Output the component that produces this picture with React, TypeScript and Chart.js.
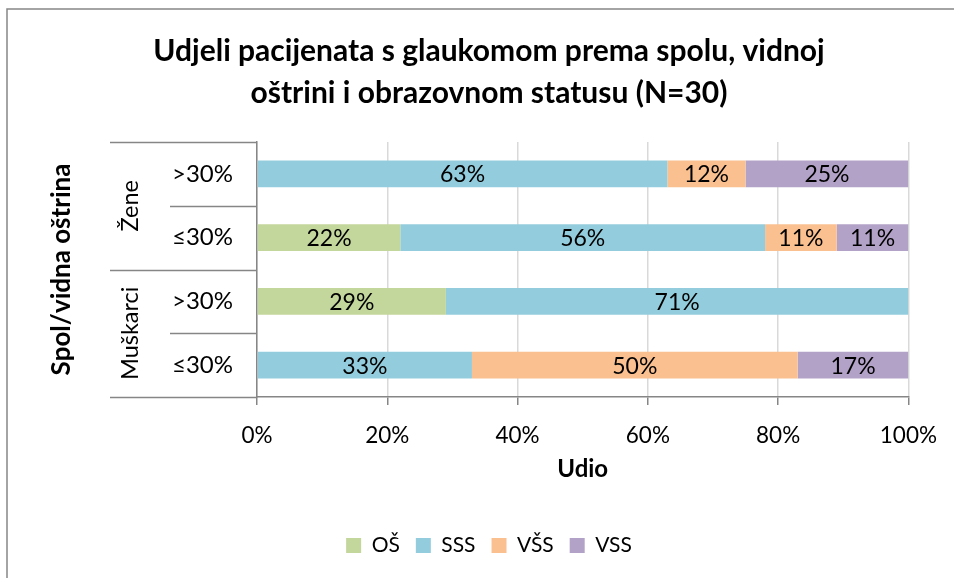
import React, { useEffect, useRef } from "react";
import { Chart, registerables } from "chart.js";

Chart.register(...registerables);

const titleLines = [
  "Udjeli pacijenata s glaukomom prema spolu, vidnoj",
  "oštrini i obrazovnom statusu (N=30)",
];
const groups = ["Žene", "Muškarci"];
const groupSizes = [2, 2];
const categories = [">30%", "≤30%", ">30%", "≤30%"];
const seriesNames = ["OŠ", "SSS", "VŠS", "VSS"];
const osValues = [0, 22, 29, 0];
const sssValues = [63, 56, 71, 33];
const vsHigherValues = [12, 11, 0, 50];
const vssValues = [25, 11, 0, 17];
const seriesColors = ["#C3D69B", "#93CDDD", "#FAC090", "#B3A2C7"];
const xTickValues = [0, 20, 40, 60, 80, 100];
const xAxisTitle = "Udio";
const yAxisTitle = "Spol/vidna oštrina";

const FONT = "Lato, 'Open Sans', sans-serif";
const AXIS_GRAY = "#868686";

const framePlugin = {
  id: "frame",
  beforeDraw(chart: any) {
    const ctx = chart.ctx;
    ctx.save();
    ctx.fillStyle = "#ffffff";
    ctx.fillRect(0, 0, chart.width, chart.height);
    ctx.strokeStyle = AXIS_GRAY;
    ctx.lineWidth = 1.5;
    ctx.beginPath();
    ctx.moveTo(7, chart.height + 5);
    ctx.lineTo(7, 9);
    ctx.lineTo(chart.width + 5, 9);
    ctx.stroke();
    ctx.restore();
  },
};

const valueLabelPlugin = {
  id: "valueLabels",
  afterDatasetsDraw(chart: any) {
    const ctx = chart.ctx;
    ctx.save();
    ctx.font = `23px ${FONT}`;
    ctx.fillStyle = "#000000";
    ctx.textAlign = "center";
    ctx.textBaseline = "middle";
    chart.data.datasets.forEach((ds: any, i: number) => {
      const meta = chart.getDatasetMeta(i);
      meta.data.forEach((bar: any, j: number) => {
        const v = ds.data[j];
        if (!v) return;
        const p = bar.getProps(["x", "y", "base"], true);
        ctx.fillText(`${v}%`, (p.x + p.base) / 2, p.y + 1);
      });
    });
    ctx.restore();
  },
};

const multiLevelPlugin = {
  id: "multiLevel",
  afterDraw(chart: any) {
    const ctx = chart.ctx;
    const y = chart.scales.y;
    const area = chart.chartArea;
    const n = categories.length;
    const step = y.getPixelForValue(1) - y.getPixelForValue(0);
    const top = y.getPixelForValue(0) - step / 2;
    const groupEdges = new Set<number>();
    let acc = 0;
    groupEdges.add(0);
    groupSizes.forEach((s) => {
      acc += s;
      groupEdges.add(acc);
    });
    ctx.save();
    ctx.strokeStyle = AXIS_GRAY;
    ctx.lineWidth = 1.5;
    for (let i = 0; i <= n; i++) {
      const py = Math.round(top + i * step) + 0.5;
      const x0 = groupEdges.has(i) ? area.left - 147 : area.left - 87;
      ctx.beginPath();
      ctx.moveTo(x0, py);
      ctx.lineTo(area.left, py);
      ctx.stroke();
    }
    // group labels
    ctx.fillStyle = "#000000";
    ctx.font = `23.5px ${FONT}`;
    ctx.textAlign = "center";
    ctx.textBaseline = "middle";
    let start = 0;
    groups.forEach((g, gi) => {
      const cy = top + (start + groupSizes[gi] / 2) * step;
      ctx.save();
      ctx.translate(area.left - 127, cy);
      ctx.rotate(-Math.PI / 2);
      ctx.fillText(g, 0, 0);
      ctx.restore();
      start += groupSizes[gi];
    });
    // y axis title
    ctx.font = `bold 26px ${FONT}`;
    ctx.save();
    ctx.translate(area.left - 195, (area.top + area.bottom) / 2);
    ctx.rotate(-Math.PI / 2);
    ctx.fillText(yAxisTitle, 0, 0);
    ctx.restore();
    ctx.restore();
  },
};

export default function App() {
  const ref = useRef<HTMLCanvasElement | null>(null);
  useEffect(() => {
    if (!ref.current) return;
    const data = {
      labels: categories,
      datasets: [osValues, sssValues, vsHigherValues, vssValues].map((vals, i) => ({
        label: seriesNames[i],
        data: vals,
        backgroundColor: seriesColors[i],
        borderWidth: 0,
        barPercentage: 0.42,
        categoryPercentage: 1,
      })),
    };
    const chart = new Chart(ref.current, {
      type: "bar",
      data,
      options: {
        indexAxis: "y",
        animation: false,
        responsive: false,
        maintainAspectRatio: false,
        layout: { padding: { left: 69, right: 45, top: 10, bottom: 12 } },
        plugins: {
          title: {
            display: true,
            text: titleLines,
            color: "#000000",
            font: { family: FONT, size: 30, weight: "bold", lineHeight: "42px" as any },
            padding: { top: 20, bottom: 28 },
          },
          legend: {
            position: "bottom",
            labels: {
              color: "#000000",
              font: { family: FONT, size: 21 },
              boxWidth: 15,
              boxHeight: 15,
              padding: 16,
            },
          },
          tooltip: { enabled: false },
        },
        scales: {
          x: {
            stacked: true,
            min: 0,
            max: 100,
            afterBuildTicks: (scale: any) => {
              scale.ticks = xTickValues.map((v) => ({ value: v }));
            },
            ticks: {
              color: "#000000",
              font: { family: FONT, size: 22.5 },
              padding: 17,
              callback: (v: any) => `${v}%`,
            },
            grid: {
              color: "#D9D9D9",
              lineWidth: 1.5,
              tickColor: AXIS_GRAY,
              tickLength: 8,
            },
            border: { color: AXIS_GRAY, width: 1.5 },
            title: {
              display: true,
              text: xAxisTitle,
              color: "#000000",
              font: { family: FONT, size: 24, weight: "bold" },
              padding: { top: 0, bottom: 35 },
            },
            afterFit: (scale: any) => {
              scale.height = 122;
            },
          },
          y: {
            stacked: true,
            grid: { display: false, drawTicks: false },
            border: { color: AXIS_GRAY, width: 1.5 },
            ticks: {
              color: "#000000",
              font: { family: FONT, size: 24 },
              padding: 24,
            },
            afterFit: (scale: any) => {
              scale.width = 188;
            },
          },
        },
      },
      plugins: [framePlugin, valueLabelPlugin, multiLevelPlugin],
    });
    return () => chart.destroy();
  }, []);
  return (
    <div style={{ position: "absolute", left: 0, top: 0, width: 954, height: 578 }}>
      <canvas ref={ref} width={954} height={578} style={{ display: "block" }} />
    </div>
  );
}
